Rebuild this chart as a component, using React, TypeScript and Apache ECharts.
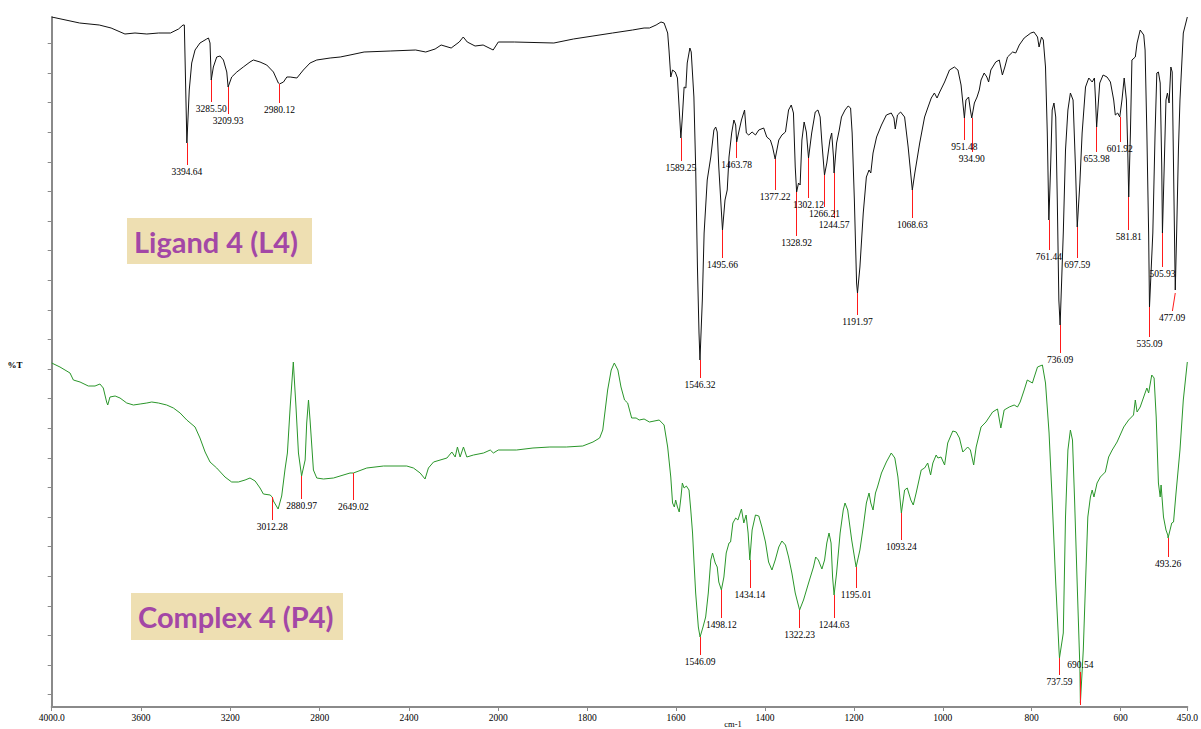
import { useEffect, useRef } from 'react';
import * as echarts from 'echarts';

// ---------- Ligand 4 (L4) spectrum: wavenumber (cm-1) and %T (arbitrary units) ----------
const ligandWn = [4000,3875,3787,3734,3672,3627,3574,3521,3468,3432,3412,3406,3394.64,3384,3373,3358,3336,3306,3298,3291,3285.5,3276,3261,3246,3231,3216,3209.93,3194,3171,3142,3112,3097,3067,3037,3007,2985,2980.12,2962,2947,2932,2902,2873,2843,2813,2753,2708,2664,2601,2484,2370,2325,2283,2256,2211,2175,2157,2139,2104,2068,2023,2000,
1964,1875,1831,1787,1743,1698,1672,1660,1645,1634,1627,1619,1616,1612,1608,1602,1597,1589.25,1586,1582,1578,1575,1569,1566,1560,1556,1552,1548.5,1546.32,1541,1537,1530,1522,1515,1511,1507.5,1504,1495.66,1490,1485,1481,1475,1470,1466,1463.78,1459,1453,1446,1442,1436.5,1429,1421.5,1414,1403,1396,1388,1383,1377.22,1369,1362,1354,1347,1341,1336,1332,1328.92,1324.6,1321,1317,1312,1307,1302.12,1295,1287,1281,1276,1272,1266.21,1261,1254,1250,1246,1244.57,1239,1233,1228,1220,1213,1207.5,1204,1199,1194,1191.97,1186.5,1179,1172,1166,1162,1157,1149,1138,1127,1116,1110,1107,1102,1095,1086,1078,1068.63,1063,1052,1041,1034,1026,1019,1013,1007,996,985,974,966,959,951.48,948,942,938,934.9,929,923,918,914,907,901,897,892,881,873,866,860.5,854.5,843,836,828,817,802,795,787,783.5,778,774,769,765,761.44,757.5,754,750,746,742.5,739,736.09,729,724,718.6,713,707,701.6,697.59,691.7,686.6,679,671.6,664,659,656.5,653.98,647,639.5,630.6,623,615.6,612,606.6,601.92,597,592,587,584,581.81,578,574.6,567,563,556,548,545,541,537,535.09,527.6,522.5,518.6,515,511,507.5,505.93,502,498,494.7,491,487,484,481,477.09,474,470,466.5,459,450];
const ligandT = [690,684,682,679,673,674,673,674,674,678,682,682,564,617,644,657,664,668,669,664,627,640,650,651,647,635,620,630,635,640,645,647,645,642,635,624,623,625,630,630,629,637,644,647,649,650,652,655,656,657,655,658,662,659,665,670,665,661,662,657,665,
665,664,668,671,674,677,679,679,682,685,684,674,657,630,637,635,629,569,590,620,619,644,659,655,610,540,440,374,347,407,474,527,550,577,580,575,540,477,507,517,550,574,587,582,565,575,587,597,574,572,575,572,577,579,570,567,560,548,567,572,575,597,602,594,540,515,524,522,567,585,575,549,574,595,597,590,564,532,544,567,574,550,534,564,577,590,597,601,599,574,507,424,414,440,494,530,537,534,554,570,582,592,594,589,578,592,595,590,560,517,534,564,590,599,609,614,609,615,625,637,640,637,622,589,607,610,597,589,604,610,617,627,634,630,625,637,645,647,632,640,650,655,654,662,669,674,675,670,660,670,667,640,574,487,540,597,604,590,507,407,382,474,557,597,614,607,540,480,524,574,620,629,625,629,607,580,624,632,630,625,607,592,594,590,607,629,607,557,510,574,647,650,664,677,672,657,574,474,400,474,574,634,635,624,540,474,540,607,614,604,640,635,540,417,474,557,607,674,690];

// ---------- Complex 4 (P4) spectrum ----------
const complexWn = [4000,3963,3918,3903,3873,3836,3806,3784,3769,3754,3749,3739,3716,3694,3664,3634,3604,3574,3552,3522,3485,3455,3425,3395,3358,3336,3313,3291,3261,3224,3194,3164,3134,3112,3089,3067,3052,3022,3012.28,3007,2986,2970,2955,2944.5,2932,2918,2906,2895,2880.97,2865,2858,2850,2843,2828,2813,2783,2738,2664,2649.02,2589,2514,2410,2380,2350,2328,2313,2290,2230,2208,2193,2183,2171,2156,2141,2111,2066,2036,2022,2000,
1959,1922,1884,1847,1810,1787,1772,1765,1754,1746,1739,1731,1724,1716,1709,1700,1690,1683,1672,1660,1638,1627,1619,1612,1608,1604,1601,1597,1593,1589,1586,1582,1577,1571,1567,1563,1560,1556,1550,1546.09,1539.5,1533.5,1527.6,1522,1518,1512,1507.5,1504,1498.12,1492.5,1487.3,1481,1477.5,1472.3,1466,1461,1453,1447.7,1442.5,1438,1434.14,1429,1421.5,1414,1407,1399,1392,1384.4,1377,1369,1362,1354,1347,1339.6,1332,1322.23,1313.4,1302,1291,1286,1280,1272,1266,1261,1256,1251.4,1248,1244.63,1239,1231,1224,1220,1214,1205,1197.7,1195.01,1186.5,1179,1172,1166,1162,1157,1151.5,1147,1138,1127,1116,1108,1101,1093.24,1086,1080,1072,1066.5,1060,1048.6,1041,1034,1027.5,1022.4,1015,1011,1004,996,989,977.6,970,962.6,955,944,938,930.6,925,914,903,888,877,869.5,862,850.6,839.5,832,826,817,810,798.5,795,787,776,769,761,754,746,738.7,737.59,729,724,718.6,713,708.3,703.6,697.8,691.7,690.54,684,679,673.8,668,664,660,653,645.6,634.4,627,619,608,593,582,571,567,563,556,545,541,537,530,524.7,520,515,511,509,503.6,498,494,493.26,485,481,475.4,466.5,459,450];
const complexT = [344,340,334,327,325,321,321,323,319,305,302,310,311,309,304,302,303,304,305,304,302,299,294,287,280,269,255,245,239,230,225,225,227,229,226,219,213,212,210,206,198,211,238,254,300,345,300,254,231,247,284,307,287,237,229,228,229,234,234,239,241,241,239,234,228,239,245,249,255,250,260,250,260,250,252,254,257,254,257,
257,259,260,260,261,265,269,277,317,337,344,337,320,307,304,289,289,287,288,285,287,282,260,230,204,200,207,200,195,210,224,219,221,217,197,174,147,114,80,70,80,90,114,147,154,144,140,125,117,130,154,164,165,184,189,187,198,184,192,174,147,177,192,191,180,165,145,137,147,160,166,162,150,134,114,97,107,124,140,150,147,138,147,164,174,164,130,112,134,174,197,204,197,167,147,140,157,180,204,214,204,197,214,220,234,245,254,249,230,194,217,219,207,202,214,237,239,244,232,244,252,249,250,242,264,276,275,269,255,260,257,242,260,280,285,295,298,279,297,300,302,300,305,317,327,324,329,340,342,324,274,207,124,57,49,74,190,257,277,267,207,124,40,4,57,124,190,210,217,210,224,230,235,250,257,265,280,287,292,307,295,300,314,319,314,332,329,290,224,210,222,190,177,172,169,184,185,214,257,307,345];

// ---------- Peak annotations ----------
const ligandPeakLabels = ['3394.64','3285.50','3209.93','2980.12','1589.25','1546.32','1495.66','1463.78','1377.22','1328.92','1302.12','1266.21','1244.57','1191.97','1068.63','951.48','934.90','761.44','736.09','697.59','653.98','601.92','581.81','535.09','505.93','477.09'];
const ligandPeakStart = [564,627,620,623,569,347,477,565,548,515,549,532,534,414,517,589,589,487,382,480,580,590,510,400,474,414];
const ligandPeakEnd = [542,605,593,604,546,329,449,549,517,471,509,500,489,392,489,567,555,457,354,449,555,565,477,370,440,396];
const ligandPeakEndWn = [3394.64,3285.5,3209.93,2980.12,1589.25,1546.32,1495.66,1463.78,1377.22,1328.92,1302.12,1266.21,1244.57,1191.97,1068.63,951.48,934.9,761.44,736.09,697.59,653.98,601.92,581.81,535.09,505.93,483.5];

const complexPeakLabels = ['3012.28','2880.97','2649.02','1546.09','1498.12','1434.14','1322.23','1244.63','1195.01','1093.24','737.59','690.54','493.26'];
const complexPeakStart = [210,231,234,70,117,147,97,112,140,194,49,2,169];
const complexPeakEnd = [187,208,207,52,89,119,79,89,119,167,32,35,150];

// ---------- Axis ticks ----------
const xTickWn = [4000,3600,3200,2800,2400,2000,1800,1600,1400,1200,1000,800,600,450];
const xTickText = ['4000.0','3600','3200','2800','2400','2000','1800','1600','1400','1200','1000','800','600','450.0'];
const yTickValues = [12.4,42,71.6,101.2,130.8,160.4,190,219.6,249.2,278.8,308.4,338,367.6,397.2,426.8,456.4,486,515.6,545.2,574.8,604.4,634,663.6];

const AXIS_GRAY = '#8a8a8a';
const SERIF = 'Liberation Serif';

function buildPairs(wn: number[], t: number[]) {
  return wn.map((w, i) => [w, t[i]]);
}

function peakLines(labels: string[], start: number[], end: number[], endWn: number[] | null, hi: boolean) {
  const out: any[] = [];
  labels.forEach((lab, i) => {
    const w = Number(lab);
    if ((w >= 2000) !== hi) return;
    const w2 = endWn ? endWn[i] : w;
    out.push([
      { coord: [w, start[i]], name: lab },
      { coord: [w2, end[i]] },
    ]);
  });
  return out;
}

function markLineCfg(data: any[]) {
  return {
    silent: true,
    symbol: ['none', 'none'],
    symbolSize: 0,
    animation: false,
    lineStyle: { color: '#ff1a1a', width: 1, type: 'solid' },
    label: {
      show: true,
      position: 'end',
      formatter: '{b}',
      distance: 2,
      color: '#000',
      fontFamily: SERIF,
      fontSize: 9.5,
      lineHeight: 10,
    },
    emphasis: { disabled: true },
    data,
  };
}

function tickFormatter(v: number) {
  const i = xTickWn.indexOf(v);
  return i >= 0 ? xTickText[i] : String(v);
}

export default function App() {
  const ref = useRef<HTMLDivElement>(null);

  useEffect(() => {
    if (!ref.current) return;
    const chart = echarts.init(ref.current, null, { renderer: 'svg' });

    const lig = buildPairs(ligandWn, ligandT);
    const com = buildPairs(complexWn, complexT);
    const ligHi = lig.filter((p) => p[0] >= 2000);
    const ligLo = lig.filter((p) => p[0] <= 2000);
    const comHi = com.filter((p) => p[0] >= 2000);
    const comLo = com.filter((p) => p[0] <= 2000);

    const hiTicks = xTickWn.filter((w) => w >= 2000);
    const loTicks = xTickWn.filter((w) => w < 2000);

    const xAxisCommon = {
      type: 'value',
      inverse: true,
      axisLine: { show: true, lineStyle: { color: AXIS_GRAY, width: 2 } },
      splitLine: { show: false },
    };

    const lineSeries = (name: string, data: any[], xi: number, color: string, ml: any[]) => ({
      name,
      type: 'line',
      xAxisIndex: xi,
      yAxisIndex: xi,
      data,
      showSymbol: false,
      symbol: 'none',
      smooth: false,
      lineStyle: { color, width: 1 },
      emphasis: { disabled: true },
      silent: true,
      z: 2,
      markLine: markLineCfg(ml),
    });

    chart.setOption({
      animation: false,
      backgroundColor: '#ffffff',
      textStyle: { fontFamily: SERIF },
      grid: [
        { left: 51.7, top: 17, width: 446.6, height: 690 },
        { left: 498.3, top: 17, width: 692.4, height: 690 },
      ],
      xAxis: [
        {
          ...xAxisCommon,
          gridIndex: 0,
          min: 2000,
          max: 4000,
          axisTick: { show: true, customValues: hiTicks, length: 4, lineStyle: { color: AXIS_GRAY, width: 1 } },
          axisLabel: { customValues: hiTicks, formatter: tickFormatter, color: '#000', fontFamily: SERIF, fontSize: 9.5, margin: 6 },
        },
        {
          ...xAxisCommon,
          gridIndex: 1,
          min: 450,
          max: 2000,
          axisTick: { show: true, customValues: loTicks, length: 4, lineStyle: { color: AXIS_GRAY, width: 1 } },
          axisLabel: { customValues: loTicks, formatter: tickFormatter, color: '#000', fontFamily: SERIF, fontSize: 9.5, margin: 6 },
        },
      ],
      yAxis: [
        {
          gridIndex: 0,
          type: 'value',
          min: 0,
          max: 690,
          axisLine: { show: true, lineStyle: { color: AXIS_GRAY, width: 2 } },
          axisTick: { show: true, customValues: yTickValues, length: 4, lineStyle: { color: AXIS_GRAY, width: 1 } },
          axisLabel: { show: false },
          splitLine: { show: false },
        },
        {
          gridIndex: 1,
          type: 'value',
          min: 0,
          max: 690,
          show: false,
          splitLine: { show: false },
        },
      ],
      series: [
        lineSeries('L4 high', ligHi, 0, '#111111', peakLines(ligandPeakLabels, ligandPeakStart, ligandPeakEnd, ligandPeakEndWn, true)),
        lineSeries('L4 low', ligLo, 1, '#111111', peakLines(ligandPeakLabels, ligandPeakStart, ligandPeakEnd, ligandPeakEndWn, false)),
        lineSeries('P4 high', comHi, 0, '#2a962a', peakLines(complexPeakLabels, complexPeakStart, complexPeakEnd, null, true)),
        lineSeries('P4 low', comLo, 1, '#2a962a', peakLines(complexPeakLabels, complexPeakStart, complexPeakEnd, null, false)),
      ],
      graphic: [
        { type: 'rect', shape: { x: 127, y: 218, width: 185, height: 46 }, style: { fill: '#EEDFB2' }, z: 10 },
        {
          type: 'text', x: 134, y: 241, z: 11,
          style: { text: 'Ligand 4 (L4)', fill: '#A347A6', fontFamily: 'Lato', fontWeight: 'bold', fontSize: 29, verticalAlign: 'middle', align: 'left' },
        },
        { type: 'rect', shape: { x: 131, y: 593, width: 212, height: 47 }, style: { fill: '#EEDFB2' }, z: 10 },
        {
          type: 'text', x: 138, y: 616, z: 11,
          style: { text: 'Complex 4 (P4)', fill: '#A347A6', fontFamily: 'Lato', fontWeight: 'bold', fontSize: 29, verticalAlign: 'middle', align: 'left' },
        },
        {
          type: 'text', x: 15, y: 365, z: 11,
          style: { text: '%T', fill: '#000', fontFamily: SERIF, fontWeight: 'bold', fontSize: 9, verticalAlign: 'middle', align: 'center' },
        },
        {
          type: 'text', x: 733, y: 724, z: 11,
          style: { text: 'cm-1', fill: '#000', fontFamily: SERIF, fontSize: 8.5, verticalAlign: 'middle', align: 'center' },
        },
      ],
    });

    return () => chart.dispose();
  }, []);

  return (
    <div
      ref={ref}
      style={{ position: 'fixed', left: 0, top: 0, width: 1201, height: 729, background: '#fff' }}
    />
  );
}
